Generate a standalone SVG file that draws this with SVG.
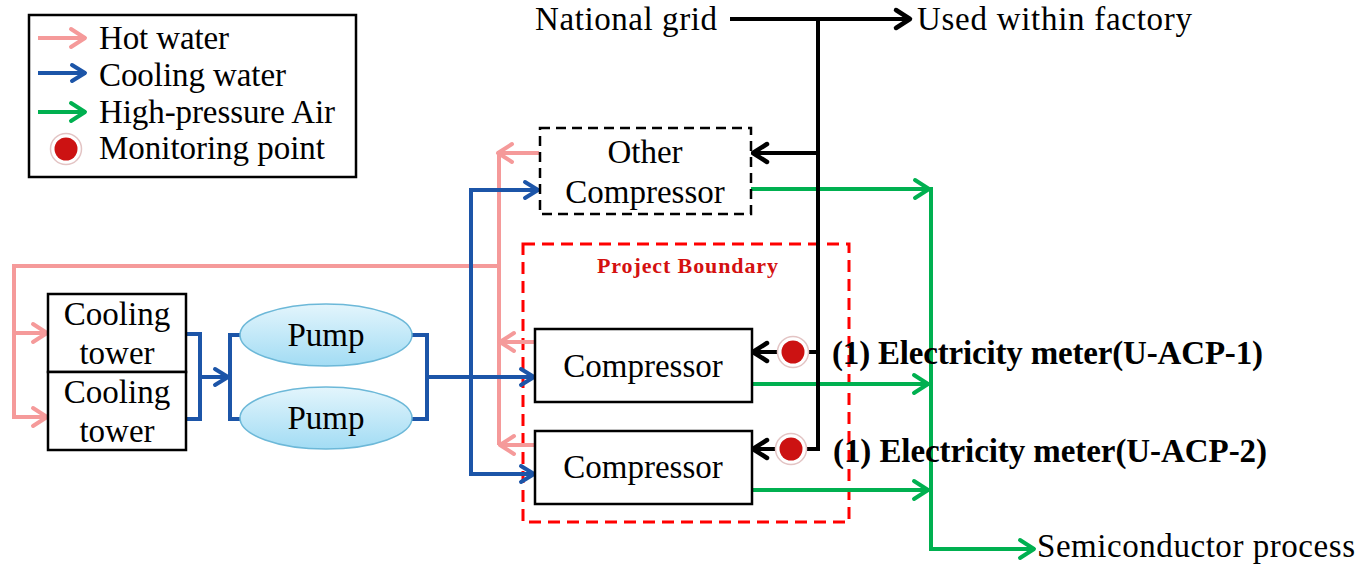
<svg xmlns="http://www.w3.org/2000/svg" width="1371" height="565" viewBox="0 0 1371 565" font-family="'Liberation Serif', 'DejaVu Serif', serif">
<style>
text{font-family:'Liberation Serif','DejaVu Serif',serif;fill:#000}
.t{font-size:33px}
.c{text-anchor:middle}
.b{font-weight:bold}
.box{fill:#fff;stroke:#000;stroke-width:2.5}
.ln{fill:none;stroke-width:4;stroke-linejoin:miter}
.hot{stroke:#f59a9a}
.cw{stroke:#1c55a8}
.hp{stroke:#00b050}
.el{stroke:#000}
.pump{fill:url(#pg);stroke:#6cb8d8;stroke-width:1.5}
.ring{fill:#fff;stroke:#e3c4c4;stroke-width:1.5}
.dot{fill:#cc1212}
.pb{fill:#d41010;font-size:22px}
</style>
<defs>
<linearGradient id="pg" x1="0" y1="0" x2="0" y2="1">
<stop offset="0" stop-color="#e3f5fc"/>
<stop offset="1" stop-color="#a2dcf4"/>
</linearGradient>
<marker id="a-hot" viewBox="0 0 20 22" refX="18" refY="11" markerWidth="20" markerHeight="22" markerUnits="userSpaceOnUse" orient="auto" overflow="visible"><path d="M3,2 L17,11 L3,20" fill="none" stroke="#f59a9a" stroke-width="4" stroke-linejoin="round" stroke-linecap="round"/></marker>
<marker id="a-cw" viewBox="0 0 20 22" refX="18" refY="11" markerWidth="20" markerHeight="22" markerUnits="userSpaceOnUse" orient="auto" overflow="visible"><path d="M4,3 L17,11 L4,19" fill="none" stroke="#1c55a8" stroke-width="4" stroke-linejoin="round" stroke-linecap="round"/></marker>
<marker id="a-hp" viewBox="0 0 20 22" refX="18" refY="11" markerWidth="20" markerHeight="22" markerUnits="userSpaceOnUse" orient="auto" overflow="visible"><path d="M3,2 L17,11 L3,20" fill="none" stroke="#00b050" stroke-width="4" stroke-linejoin="round" stroke-linecap="round"/></marker>
<marker id="a-el" viewBox="0 0 20 22" refX="18" refY="11" markerWidth="20" markerHeight="22" markerUnits="userSpaceOnUse" orient="auto" overflow="visible"><path d="M3,2 L17,11 L3,20" fill="none" stroke="#000" stroke-width="4.5" stroke-linejoin="round" stroke-linecap="round"/></marker>
<marker id="a-leg" viewBox="0 0 20 22" refX="18" refY="11" markerWidth="20" markerHeight="22" markerUnits="userSpaceOnUse" orient="auto" overflow="visible"><path d="M5,4 L17,11 L5,18" fill="none" stroke="context-stroke" stroke-width="4" stroke-linejoin="round" stroke-linecap="round"/></marker>
</defs>
<rect width="1371" height="565" fill="#fff"/>

<g id="legend">
<rect x="29" y="15" width="327" height="162" fill="#fff" stroke="#000" stroke-width="2.5"/>
<path class="ln hot" d="M38,38 L86,38" marker-end="url(#a-hot)"/>
<path class="ln cw" d="M38,73 L86,73" marker-end="url(#a-cw)"/>
<path class="ln hp" d="M38,112 L86,112" marker-end="url(#a-hp)"/>
<circle class="ring" cx="66" cy="149" r="15.5"/>
<circle class="dot" cx="66" cy="149" r="11.5"/>
<text class="t" x="99" y="49" textLength="130">Hot water</text>
<text class="t" x="99" y="86" textLength="187">Cooling water</text>
<text class="t" x="99" y="123" textLength="236">High-pressure Air</text>
<text class="t" x="99" y="159" textLength="226">Monitoring point</text>
</g>

<g id="project-boundary">
<rect x="523" y="244" width="326" height="278" fill="none" stroke="#ff0000" stroke-width="3" stroke-dasharray="12 7"/>
<text class="pb b" x="597" y="273" textLength="181">Project Boundary</text>
</g>

<g id="connectors">
<path class="ln hot" d="M499,153 L499,445"/>
<path class="ln hot" d="M499,266 L14,266 L14,417 L48,417" marker-end="url(#a-hot)"/>
<path class="ln hot" d="M14,333 L48,333" marker-end="url(#a-hot)"/>
<path class="ln hot" d="M539,153 L497,153" marker-end="url(#a-hot)"/>
<path class="ln hot" d="M535,342 L499,342" marker-end="url(#a-hot)"/>
<path class="ln hot" d="M535,445 L499,445" marker-end="url(#a-hot)"/>

<path class="ln cw" d="M186,334 L200,334 L200,419 L186,419"/>
<path class="ln cw" d="M200,377 L229,377" marker-end="url(#a-cw)"/>
<path class="ln cw" d="M241,335 L230,335 L230,419 L241,419"/>
<path class="ln cw" d="M411,335 L427,335 L427,419 L411,419"/>
<path class="ln cw" d="M427,377 L535,377" marker-end="url(#a-cw)"/>
<path class="ln cw" d="M471,190 L471,474 L535,474" marker-end="url(#a-cw)"/>
<path class="ln cw" d="M469,190 L539,190" marker-end="url(#a-cw)"/>

<path class="ln hp" d="M751,189 L930,189" marker-end="url(#a-hp)"/>
<path class="ln hp" d="M931,187 L931,549 L1035,549" marker-end="url(#a-hp)"/>
<path class="ln hp" d="M752,384 L929,384" marker-end="url(#a-hp)"/>
<path class="ln hp" d="M752,490 L929,490" marker-end="url(#a-hp)"/>

<path class="ln el" d="M730,19 L911,19" marker-end="url(#a-el)"/>
<path class="ln el" d="M818,19 L818,449 L752,449" marker-end="url(#a-el)"/>
<path class="ln el" d="M818,153 L752,153" marker-end="url(#a-el)"/>
<path class="ln el" d="M818,352 L752,352" marker-end="url(#a-el)"/>
</g>

<g id="national-grid">
<text class="t" x="535" y="30" textLength="182">National grid</text>
</g>
<g id="used-within-factory">
<text class="t" x="917" y="30" textLength="275">Used within factory</text>
</g>
<g id="semiconductor-process">
<text class="t" x="1037" y="557" textLength="318">Semiconductor process</text>
</g>

<g id="cooling-tower-1">
<rect class="box" x="48" y="294" width="138" height="78"/>
<text class="t c" x="117" y="325">Cooling</text>
<text class="t c" x="117" y="364">tower</text>
</g>
<g id="cooling-tower-2">
<rect class="box" x="48" y="372" width="138" height="78"/>
<text class="t c" x="117" y="403">Cooling</text>
<text class="t c" x="117" y="442">tower</text>
</g>

<g id="pump-1">
<ellipse class="pump" cx="326" cy="335" rx="86" ry="31"/>
<text class="t c" x="326" y="346">Pump</text>
</g>
<g id="pump-2">
<ellipse class="pump" cx="326" cy="418" rx="86" ry="31"/>
<text class="t c" x="326" y="429">Pump</text>
</g>

<g id="other-compressor">
<rect x="540" y="128" width="211" height="86" fill="#fff" stroke="#000" stroke-width="2.5" stroke-dasharray="10 6"/>
<text class="t c" x="645" y="163">Other</text>
<text class="t c" x="645" y="203">Compressor</text>
</g>

<g id="compressor-1">
<rect class="box" x="535" y="329" width="217" height="73"/>
<text class="t c" x="643" y="377">Compressor</text>
</g>
<g id="compressor-2">
<rect class="box" x="535" y="431" width="217" height="73"/>
<text class="t c" x="643" y="478">Compressor</text>
</g>

<g id="meter-1">
<circle class="ring" cx="793" cy="352" r="15.5"/>
<circle class="dot" cx="793" cy="352" r="11.5"/>
<text class="t b" x="832" y="364" textLength="431">(1) Electricity meter(U-ACP-1)</text>
</g>
<g id="meter-2">
<circle class="ring" cx="791" cy="449" r="15.5"/>
<circle class="dot" cx="791" cy="449" r="11.5"/>
<text class="t b" x="833" y="462" textLength="434">(1) Electricity meter(U-ACP-2)</text>
</g>
</svg>
